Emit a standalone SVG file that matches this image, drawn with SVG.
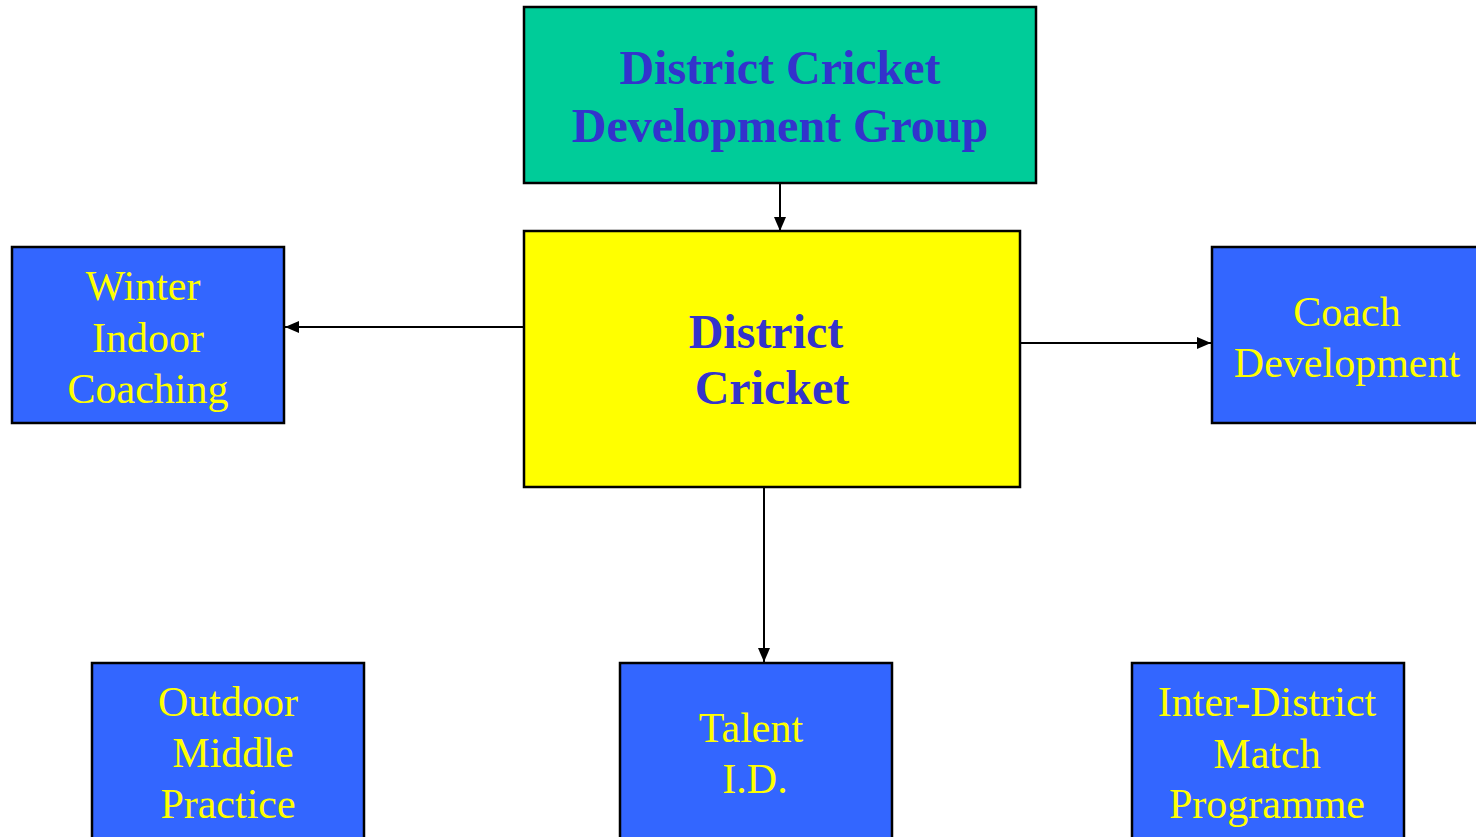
<svg xmlns="http://www.w3.org/2000/svg" width="1476" height="837" viewBox="0 0 1476 837">
<style>
.box{stroke:#000;stroke-width:2.5}
.blue{fill:#3366FF}
.t{font-family:"Liberation Serif","Times New Roman",serif;text-anchor:middle}
.bt{font-size:48px;font-weight:bold;fill:#3333CC}
.yt{font-size:42px;fill:#FFFF00}
.conn{stroke:#000;stroke-width:2;fill:none}
</style>
<defs>
<marker id="arr" viewBox="0 0 14 12" refX="14" refY="6" markerWidth="14" markerHeight="12" markerUnits="userSpaceOnUse" orient="auto">
<path d="M0,0 L14,6 L0,12 Z" fill="#000"/>
</marker>
</defs>
<rect width="1476" height="837" fill="#fff"/>
<g id="connectors">
<line class="conn" x1="780" y1="183" x2="780" y2="231" marker-end="url(#arr)"/>
<line class="conn" x1="524" y1="327" x2="285" y2="327" marker-end="url(#arr)"/>
<line class="conn" x1="1020" y1="343" x2="1211" y2="343" marker-end="url(#arr)"/>
<line class="conn" x1="764" y1="487" x2="764" y2="662" marker-end="url(#arr)"/>
</g>
<g id="dev-group">
<rect class="box" x="524" y="7" width="512" height="176" fill="#00CC99"/>
<text class="t bt" x="780" y="84">District Cricket</text>
<text class="t bt" x="780" y="142">Development Group</text>
</g>
<g id="district-cricket">
<rect class="box" x="524" y="231" width="496" height="256" fill="#FFFF00"/>
<text class="t bt" x="766" y="348">District</text>
<text class="t bt" x="772" y="404">Cricket</text>
</g>
<g id="winter">
<rect class="box blue" x="12" y="247" width="272" height="176"/>
<text class="t yt" x="143" y="300">Winter</text>
<text class="t yt" x="148" y="352">Indoor</text>
<text class="t yt" x="148" y="403">Coaching</text>
</g>
<g id="coach">
<rect class="box blue" x="1212" y="247" width="280" height="176"/>
<text class="t yt" x="1347" y="326">Coach</text>
<text class="t yt" x="1347" y="377">Development</text>
</g>
<g id="outdoor">
<rect class="box blue" x="92" y="663" width="272" height="190"/>
<text class="t yt" x="228" y="716">Outdoor</text>
<text class="t yt" x="233" y="767">Middle</text>
<text class="t yt" x="228" y="818">Practice</text>
</g>
<g id="talent">
<rect class="box blue" x="620" y="663" width="272" height="190"/>
<text class="t yt" x="751" y="742">Talent</text>
<text class="t yt" x="755" y="793">I.D.</text>
</g>
<g id="inter-district">
<rect class="box blue" x="1132" y="663" width="272" height="190"/>
<text class="t yt" x="1267" y="716">Inter-District</text>
<text class="t yt" x="1267" y="768">Match</text>
<text class="t yt" x="1267" y="818">Programme</text>
</g>
</svg>
